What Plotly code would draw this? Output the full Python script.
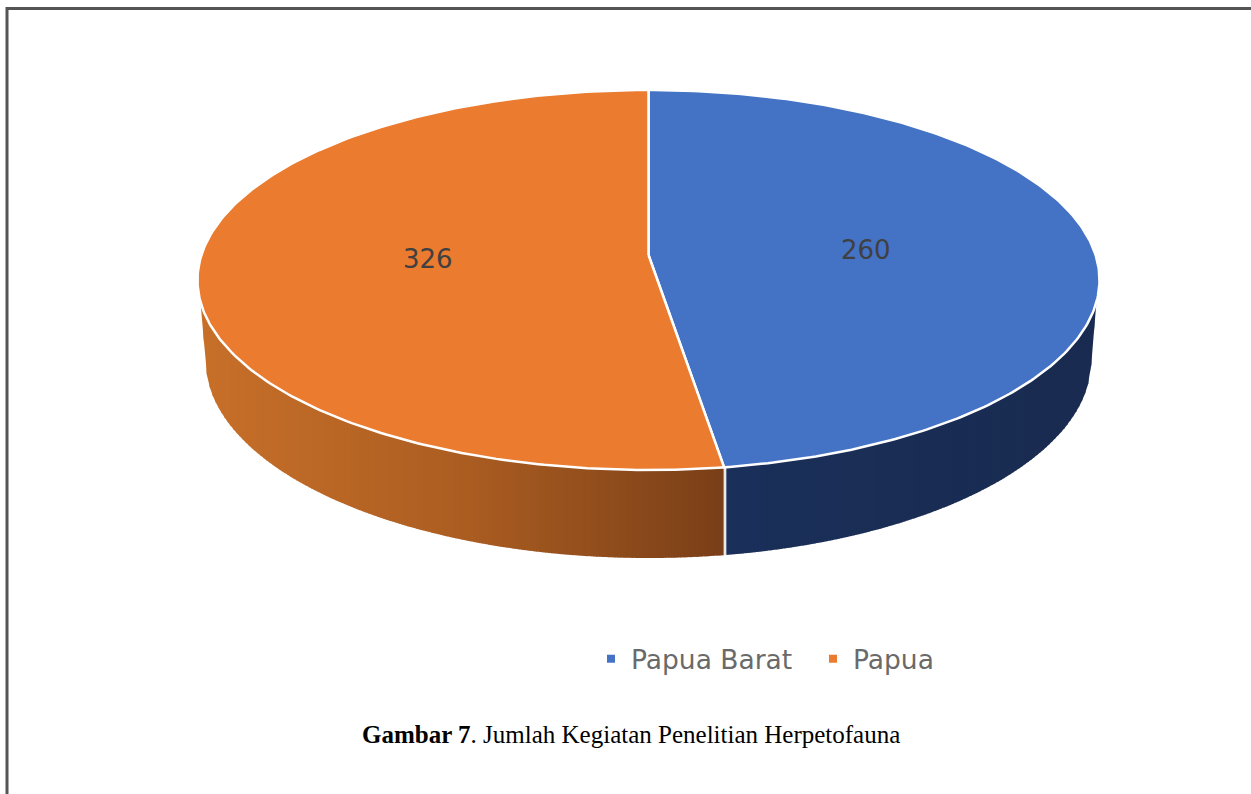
import numpy as np
import plotly.graph_objects as go

# ---- data ----
categories = ["Papua Barat", "Papua"]
values = [260, 326]
caption_bold = "Gambar 7"
caption_rest = ". Jumlah Kegiatan Penelitian Herpetofauna"

# ---- style ----
BLUE = "#4472C4"
ORANGE = "#EA7B2F"
ORANGE_WALL = [(200, (200, 112, 42)), (460, (172, 94, 34)), (724, (122, 63, 24))]
BLUE_WALL = [(726, (27, 48, 90)), (1098, (25, 43, 80))]
W, H = 1251, 794
CX, CY, RX, RY = 648.5, 280.0, 451.0, 190.0
HUB = (648.5, 255.0)
LCY, LRX, LRY = 360.0, 443.0, 198.0
EDGE_Y = 302.0
STRETCH = 1.0665  # perspective stretch of the slice angle on the elliptical face

share = values[0] / sum(values)
split = 2 * np.pi * share * STRETCH


def rim(a, b):
    t = np.linspace(a, b, 240)
    return CX + RX * np.sin(t), CY - RY * np.cos(t)


def top_y(x):
    d = np.clip((x - CX) / RX, -1, 1)
    return CY + RY * np.sqrt(1 - d * d)


def bot_y(x):
    d = abs(x - CX)
    if d <= LRX:
        return LCY + LRY * np.sqrt(1 - (d / LRX) ** 2)
    edge = RX * np.sqrt(1 - ((EDGE_Y - CY) / RY) ** 2)
    return LCY + (EDGE_Y - LCY) * (d - LRX) / (edge - LRX)


def ramp(stops, x):
    xs = [s[0] for s in stops]
    c = [np.interp(x, xs, [s[1][i] for s in stops]) for i in range(3)]
    return "rgb(%d,%d,%d)" % tuple(c)


fig = go.Figure()

edge = RX * np.sqrt(1 - ((EDGE_Y - CY) / RY) ** 2)
split_x = CX + RX * np.sin(split)


def add_wall(x0, x1, stops):
    step = 3.0
    for xa in np.arange(x0, x1, step):
        xb = min(xa + step + 0.8, x1)
        xm = np.array([xa, xb])
        ty = [top_y(v) for v in xm]
        by = [bot_y(v) for v in xm]
        fig.add_trace(go.Scatter(
            x=[xa, xb, xb, xa, xa], y=[ty[0], ty[1], by[1], by[0], ty[0]],
            mode="lines", line=dict(width=0), fill="toself",
            fillcolor=ramp(stops, xa), hoverinfo="skip", showlegend=False))


add_wall(CX - edge, split_x - 0.5, ORANGE_WALL)
add_wall(split_x + 0.5, CX + edge, BLUE_WALL)

# seam between the two walls
fig.add_trace(go.Scatter(
    x=[split_x + 1, split_x + 1], y=[top_y(split_x), bot_y(split_x)], mode="lines",
    line=dict(color="#e8e8e8", width=2.5), hoverinfo="skip", showlegend=False))

# top faces
for a, b, col in [(0, split, BLUE), (split, 2 * np.pi, ORANGE)]:
    rx_, ry_ = rim(a, b)
    fig.add_trace(go.Scatter(
        x=np.r_[HUB[0], rx_, HUB[0]], y=np.r_[HUB[1], ry_, HUB[1]],
        mode="lines", line=dict(color="white", width=2.5), fill="toself",
        fillcolor=col, hoverinfo="skip", showlegend=False))

# legend entries
for name, col in zip(categories, [BLUE, ORANGE]):
    fig.add_trace(go.Scatter(
        x=[None], y=[None], mode="markers", name=name,
        marker=dict(symbol="square", size=8, color=col)))

annotations = [
    dict(x=428, y=259, text=str(values[1])),
    dict(x=866, y=250, text=str(values[0])),
]
for a in annotations:
    a.update(xref="x", yref="y", showarrow=False,
             font=dict(family="DejaVu Sans", size=26, color="#404040"))
annotations.append(dict(
    x=630.5, y=734, xref="x", yref="y", showarrow=False,
    text=f"<b>{caption_bold}</b>{caption_rest}",
    font=dict(family="Liberation Serif", size=25, color="#000000")))

fig.update_layout(
    width=W, height=H, margin=dict(l=0, r=0, t=0, b=0),
    paper_bgcolor="white", plot_bgcolor="white",
    xaxis=dict(range=[0, W], visible=False, fixedrange=True),
    yaxis=dict(range=[H, 0], visible=False, fixedrange=True),
    annotations=annotations,
    legend=dict(orientation="h", x=591 / W, y=1 - 635 / H, xanchor="left", yanchor="top",
                font=dict(family="DejaVu Sans", size=26.5, color="#6a6a6a"),
                bgcolor="rgba(0,0,0,0)", entrywidth=177, entrywidthmode="pixels",
                traceorder="normal"),
    shapes=[
        dict(type="line", xref="x", yref="y", x0=6, x1=W, y0=8.5, y1=8.5,
             line=dict(color="#555555", width=3)),
        dict(type="line", xref="x", yref="y", x0=7, x1=7, y0=7, y1=H,
             line=dict(color="#555555", width=3)),
    ],
)

fig.write_html("out.html", config={"displayModeBar": False},
               post_script="document.body.style.margin='0';")
